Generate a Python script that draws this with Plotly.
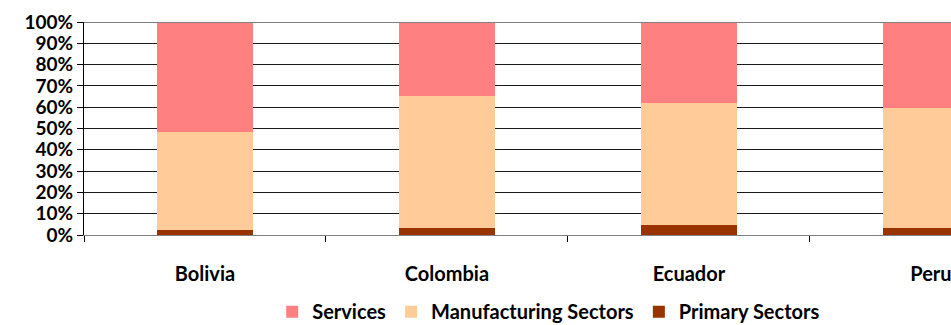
import plotly.graph_objects as go

countries = ["Bolivia", "Colombia", "Ecuador", "Peru"]
primary = [2.4, 3.4, 4.9, 3.5]
manufacturing = [45.9, 61.8, 57.2, 55.9]
services = [51.7, 34.8, 37.9, 40.6]

series = [
    ("Primary Sectors", primary, "#993300"),
    ("Manufacturing Sectors", manufacturing, "#FFCC99"),
    ("Services", services, "#FF8080"),
]

font_family = "Lato, 'Open Sans', sans-serif"

fig = go.Figure()
for name, vals, color in series:
    fig.add_trace(go.Bar(
        x=countries,
        y=[v / 100 for v in vals],
        name=name,
        marker=dict(color=color, line=dict(width=0)),
        width=0.4,
    ))

fig.update_layout(
    barmode="stack",
    width=951,
    height=325,
    margin=dict(l=84, r=0, t=22, b=90, autoexpand=False),
    plot_bgcolor="white",
    paper_bgcolor="white",
    font=dict(family=font_family, color="#000000"),
    showlegend=True,
    legend=dict(
        orientation="h",
        traceorder="reversed",
        x=0.536, xanchor="center",
        y=-0.36, yanchor="middle",
        font=dict(size=20, family=font_family, weight="bold"),
        itemwidth=30,
        tracegroupgap=0,
    ),
    xaxis=dict(
        range=[-0.5, 3.083],
        showgrid=False,
        showline=True,
        linecolor="#808080",
        linewidth=1,
        ticks="outside",
        tickson="boundaries",
        ticklen=6,
        tickcolor="#000000",
        ticklabelstandoff=21,
        tickfont=dict(size=20, family=font_family, weight="bold"),
    ),
    yaxis=dict(
        range=[0, 1],
        dtick=0.1,
        tickformat=".0%",
        showgrid=True,
        gridcolor="#1a1a1a",
        gridwidth=1,
        showline=True,
        linecolor="#000000",
        linewidth=1,
        ticks="outside",
        ticklen=6,
        tickcolor="#000000",
        tickfont=dict(size=19, family=font_family, weight="bold"),
        zeroline=False,
    ),
    shapes=[dict(
        type="line", xref="paper", yref="y",
        x0=0, x1=1, y0=1, y1=1,
        line=dict(color="#808080", width=2),
    )],
)

fig.write_html("out.html")
